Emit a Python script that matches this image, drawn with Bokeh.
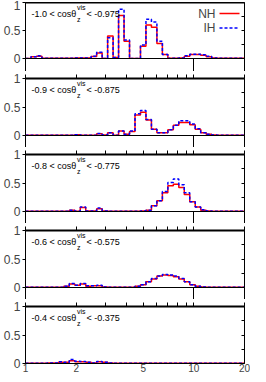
import numpy as np
from bokeh.plotting import figure
from bokeh.models import Range1d, LinearAxis, LogAxis, FixedTicker, Label, Arrow, Span
from bokeh.layouts import column
from bokeh.embed import file_html
from bokeh.resources import INLINE

# ---- binning (log-spaced energy bins, GeV) ----
E_MIN, E_MAX, N_BINS = 1.0, 20.0, 40
edges = np.logspace(np.log10(E_MIN), np.log10(E_MAX), N_BINS + 1)

# ---- zenith-bin labels ----
bin_lo = ["-1.0", "-0.9", "-0.8", "-0.6", "-0.4"]
bin_hi = ["-0.975", "-0.875", "-0.775", "-0.575", "-0.375"]

# ---- histogram contents (normal hierarchy / inverted hierarchy) ----
nh_1 = [0.0, 0.03, 0.04, 0.005, 0.005, 0.005, 0.005, 0.005, 0.005, 0.01,
        0.01, 0.01, 0.035, 0.10, 0.0, 0.40, 0.02, 0.77, 0.31, 0.0,
        0.0, 0.22, 0.60, 0.56, 0.27, 0.07, 0.005, 0.005, 0.01, 0.04,
        0.07, 0.07, 0.06, 0.03, 0.01, 0.005, 0.003, 0.003, 0.003, 0.003]
ih_1 = [0.0, 0.03, 0.05, 0.005, 0.005, 0.005, 0.005, 0.005, 0.005, 0.01,
        0.01, 0.01, 0.04, 0.11, 0.0, 0.37, 0.02, 0.88, 0.33, 0.0,
        0.0, 0.24, 0.70, 0.65, 0.31, 0.07, 0.005, 0.005, 0.01, 0.05,
        0.075, 0.075, 0.065, 0.04, 0.01, 0.005, 0.003, 0.003, 0.003, 0.003]

nh_2 = [0.005, 0.005, 0.003, 0.003, 0.003, 0.003, 0.005, 0.005, 0.005, 0.015,
        0.005, 0.005, 0.005, 0.03, 0.01, 0.05, 0.005, 0.08, 0.02, 0.07,
        0.36, 0.41, 0.27, 0.11, 0.05, 0.05, 0.10, 0.18, 0.23, 0.23,
        0.19, 0.11, 0.05, 0.02, 0.01, 0.005, 0.003, 0.003, 0.003, 0.003]
ih_2 = [0.005, 0.005, 0.003, 0.003, 0.003, 0.003, 0.005, 0.005, 0.005, 0.015,
        0.005, 0.005, 0.005, 0.035, 0.01, 0.05, 0.005, 0.08, 0.02, 0.08,
        0.38, 0.44, 0.28, 0.11, 0.05, 0.05, 0.10, 0.18, 0.26, 0.26,
        0.20, 0.12, 0.05, 0.02, 0.01, 0.005, 0.003, 0.003, 0.003, 0.003]

nh_3 = [0.003, 0.003, 0.003, 0.003, 0.003, 0.005, 0.005, 0.005, 0.02, 0.005,
        0.07, 0.01, 0.01, 0.05, 0.01, 0.005, 0.005, 0.005, 0.005, 0.005,
        0.005, 0.01, 0.02, 0.10, 0.19, 0.33, 0.45, 0.48, 0.42, 0.30,
        0.17, 0.08, 0.02, 0.01, 0.005, 0.003, 0.003, 0.003, 0.003, 0.003]
ih_3 = [0.003, 0.003, 0.003, 0.003, 0.003, 0.005, 0.005, 0.005, 0.02, 0.005,
        0.08, 0.01, 0.01, 0.06, 0.01, 0.005, 0.005, 0.005, 0.005, 0.005,
        0.005, 0.01, 0.02, 0.10, 0.19, 0.35, 0.51, 0.57, 0.47, 0.33,
        0.17, 0.08, 0.03, 0.01, 0.005, 0.003, 0.003, 0.003, 0.003, 0.003]

nh_4 = [0.003, 0.003, 0.003, 0.003, 0.003, 0.005, 0.005, 0.02, 0.06, 0.04,
        0.06, 0.02, 0.03, 0.03, 0.01, 0.005, 0.005, 0.005, 0.005, 0.005,
        0.02, 0.05, 0.10, 0.15, 0.20, 0.22, 0.21, 0.19, 0.15, 0.10,
        0.05, 0.02, 0.01, 0.005, 0.003, 0.003, 0.003, 0.003, 0.003, 0.003]
ih_4 = [0.003, 0.003, 0.003, 0.003, 0.003, 0.005, 0.005, 0.02, 0.07, 0.04,
        0.07, 0.03, 0.03, 0.04, 0.01, 0.005, 0.005, 0.005, 0.005, 0.005,
        0.02, 0.05, 0.10, 0.16, 0.20, 0.23, 0.22, 0.20, 0.16, 0.10,
        0.05, 0.02, 0.01, 0.005, 0.003, 0.003, 0.003, 0.003, 0.003, 0.003]

nh_5 = [0.003, 0.003, 0.003, 0.005, 0.01, 0.01, 0.02, 0.02, 0.05, 0.03,
        0.03, 0.02, 0.01, 0.03, 0.02, 0.01, 0.005, 0.005, 0.005, 0.005,
        0.005, 0.005, 0.005, 0.005, 0.005, 0.005, 0.005, 0.005, 0.005, 0.005,
        0.005, 0.005, 0.005, 0.003, 0.003, 0.003, 0.003, 0.003, 0.003, 0.003]
ih_5 = [0.003, 0.003, 0.003, 0.005, 0.01, 0.01, 0.03, 0.02, 0.07, 0.04,
        0.035, 0.02, 0.01, 0.035, 0.02, 0.01, 0.005, 0.005, 0.005, 0.005,
        0.005, 0.005, 0.005, 0.005, 0.005, 0.005, 0.005, 0.005, 0.005, 0.005,
        0.005, 0.005, 0.005, 0.003, 0.003, 0.003, 0.003, 0.003, 0.003, 0.003]

NH = [nh_1, nh_2, nh_3, nh_4, nh_5]
IH = [ih_1, ih_2, ih_3, ih_4, ih_5]

x_tick_labels = [1, 2, 5, 10, 20]
y_tick_labels = [0, 0.5, 1]

FONT = "Liberation Sans"
FH = [56, 57, 57, 57, 57]        # frame heights
TOP = [2, 7, 7, 7, 7]            # top borders
BOT = [13, 12, 12, 12, 11]       # bottom borders
LEFT, RIGHT, FW = 21, 6, 223

figs = []
for k in range(5):
    last = (k == 4)
    fh = FH[k]
    p = figure(width=LEFT + FW + RIGHT, height=TOP[k] + fh + BOT[k],
               x_axis_type="log", output_backend="svg", toolbar_location=None,
               x_range=Range1d(E_MIN, E_MAX), y_range=Range1d(0, 1),
               min_border_left=LEFT, min_border_right=RIGHT,
               min_border_top=TOP[k], min_border_bottom=BOT[k],
               background_fill_color="white", border_fill_color="white")
    p.grid.visible = False
    p.outline_line_color = "black"
    p.outline_line_width = 1

    # left axis
    ya = p.yaxis[0]
    ya.ticker = FixedTicker(ticks=y_tick_labels)
    ya.major_tick_out = 3
    ya.major_tick_in = 0
    ya.minor_tick_out = 0
    ya.major_label_text_font = FONT
    ya.major_label_text_font_size = "12px"
    ya.major_label_standoff = 2
    ya.axis_line_color = "black"
    ya.major_tick_line_color = "black"

    # right axis: unlabeled ticks only
    ra = LinearAxis(ticker=FixedTicker(ticks=[], minor_ticks=[0.25, 0.5, 0.75]),
                    minor_tick_in=3, minor_tick_out=0, major_tick_out=0,
                    major_label_standoff=0, axis_line_color="black",
                    minor_tick_line_color="black")
    p.add_layout(ra, "right")

    # bottom axis
    xa = p.xaxis[0]
    xa.axis_line_color = "black"
    xa.minor_tick_in = 0
    xa.major_tick_in = 0
    if last:
        xa.ticker = FixedTicker(ticks=x_tick_labels)
        xa.major_tick_out = 0
        xa.minor_tick_out = 0
        xa.major_label_text_font = FONT
        xa.major_label_text_font_size = "10px"
        xa.major_label_standoff = 0
        xa.major_label_overrides = {t: str(t) for t in x_tick_labels}
    else:
        # long ticks bridging to the next panel
        xa.ticker = FixedTicker(ticks=[], minor_ticks=[1, 10, 20])
        xa.major_tick_out = 0
        xa.minor_tick_out = BOT[k]
        xa.minor_tick_line_color = "black"
        xa.major_label_standoff = 0

    # top axis: short unlabeled ticks pointing up
    if k > 0:
        ta = LogAxis(ticker=FixedTicker(ticks=[], minor_ticks=[1, 2, 3, 4, 5, 6, 7, 8, 9, 10, 20]),
                     major_tick_out=0, major_tick_in=0,
                     minor_tick_out=4, minor_tick_in=0, minor_tick_line_color="black",
                     major_label_standoff=0,
                     axis_line_color="black", axis_line_width=2)
        p.add_layout(ta, "above")
    else:
        p.add_layout(Span(location=1, dimension="width", line_color="black", line_width=2))

    # histograms
    nh_y = list(NH[k]) + [NH[k][-1]]
    ih_y = list(IH[k]) + [IH[k][-1]]
    p.step(edges, nh_y, mode="after", line_color="#ff0000", line_width=1.5)
    p.step(edges, ih_y, mode="after", line_color="#0000ff", line_width=1.5, line_dash="3 2")

    # panel label: lo < cos theta_z^vis < hi
    ly = fh - 11
    p.add_layout(Label(x=6, y=ly, x_units="screen", y_units="screen",
                       text=f"{bin_lo[k]} < cosθ", text_font=FONT, text_font_size="9px",
                       text_baseline="middle", text_color="black"))
    p.add_layout(Label(x=51.5, y=ly + 6.5, x_units="screen", y_units="screen",
                       text="vis", text_font=FONT, text_font_size="7px",
                       text_baseline="middle", text_color="black"))
    p.add_layout(Label(x=51.5, y=ly - 6, x_units="screen", y_units="screen",
                       text="z", text_font=FONT, text_font_size="7px",
                       text_baseline="middle", text_color="black"))
    p.add_layout(Label(x=61, y=ly, x_units="screen", y_units="screen",
                       text=f"< {bin_hi[k]}", text_font=FONT, text_font_size="9px",
                       text_baseline="middle", text_color="black"))

    if k == 0:
        p.add_layout(Label(x=190, y=fh - 11, x_units="screen", y_units="screen",
                           text="NH", text_font=FONT, text_font_size="12px",
                           text_align="right", text_baseline="middle"))
        p.add_layout(Label(x=190, y=fh - 25.5, x_units="screen", y_units="screen",
                           text="IH", text_font=FONT, text_font_size="12px",
                           text_align="right", text_baseline="middle"))
        p.add_layout(Arrow(x_start=194, y_start=fh - 11, x_end=214, y_end=fh - 11,
                           start_units="screen", end_units="screen", end=None,
                           line_color="#ff0000", line_width=1.5))
        p.add_layout(Arrow(x_start=194, y_start=fh - 25.5, x_end=214, y_end=fh - 25.5,
                           start_units="screen", end_units="screen", end=None,
                           line_color="#0000ff", line_width=1.5, line_dash="3 2"))
    figs.append(p)

layout = column(*figs, spacing=0)
open("out.html", "w").write(file_html(layout, INLINE))
